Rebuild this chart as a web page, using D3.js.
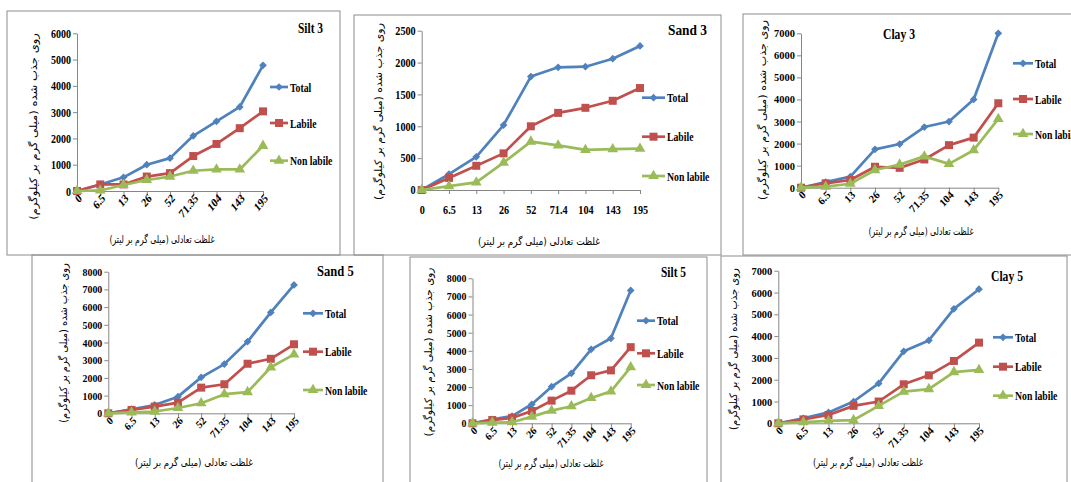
<!DOCTYPE html>
<html lang="en">

<head>
  <meta charset="UTF-8">
  <script src="https://d3js.org/d3.v7.min.js"></script>
  <style>
    body { margin: 0; background: #fff; }
    .tick text { font-family: "Liberation Serif", serif; font-weight: bold; fill: #000; }
    .domain, .tick line { stroke: #868686; }
  </style>
</head>

<body>
  <svg id="chart" width="1071" height="482"></svg>

  <script>
    // categories (equilibrium concentration)
    const cats = ["0", "6.5", "13", "26", "52", "71.35", "104", "143", "195"];
    const catsSand3 = ["0", "6.5", "13", "26", "52", "71.4", "104", "143", "195"];
    const seriesNames = ["Total", "Labile", "Non labile"];
    const colors = ["#4F81BD", "#C0504D", "#9BBB59"];

    const silt3Total = [0, 250, 520, 1000, 1250, 2100, 2650, 3200, 4780];
    const silt3Labile = [0, 250, 250, 550, 680, 1330, 1790, 2390, 3030];
    const silt3NonLabile = [0, 20, 230, 420, 550, 770, 820, 820, 1720];

    const sand3Total = [0, 250, 520, 1020, 1780, 1925, 1935, 2060, 2260];
    const sand3Labile = [0, 190, 380, 575, 1000, 1210, 1290, 1400, 1600];
    const sand3NonLabile = [0, 60, 120, 430, 760, 700, 630, 640, 650];

    const clay3Total = [0, 250, 500, 1740, 1980, 2750, 3000, 4000, 7000];
    const clay3Labile = [0, 200, 350, 950, 900, 1280, 1930, 2270, 3830];
    const clay3NonLabile = [0, 50, 180, 800, 1050, 1420, 1080, 1700, 3120];

    const sand5Total = [0, 230, 470, 940, 2030, 2780, 4050, 5700, 7250];
    const sand5Labile = [0, 190, 380, 600, 1450, 1640, 2800, 3080, 3900];
    const sand5NonLabile = [0, 50, 100, 300, 570, 1080, 1200, 2600, 3330];

    const silt5Total = [0, 220, 400, 1050, 2020, 2760, 4080, 4690, 7330];
    const silt5Labile = [0, 180, 300, 680, 1250, 1800, 2650, 2920, 4200];
    const silt5NonLabile = [0, 40, 60, 370, 700, 940, 1400, 1760, 3100];

    const clay5Total = [0, 230, 500, 1000, 1830, 3300, 3800, 5250, 6150];
    const clay5Labile = [0, 180, 380, 800, 1000, 1790, 2200, 2860, 3700];
    const clay5NonLabile = [0, 50, 110, 150, 800, 1450, 1570, 2350, 2450];

    const yTitleText = "روی جذب شده (میلی گرم بر کیلوگرم)";
    const xTitleText = "غلظت تعادلی (میلی گرم بر لیتر)";

    // layout of the six panels (fs = tick font size, sx = horizontal squeeze of tick text)
    const panels = [
      { title: "Silt 3", cats: cats, data: [silt3Total, silt3Labile, silt3NonLabile], yMax: 6000, step: 1000,
        box: [7, 11, 340, 255], x0: 77, x1: 263, yTop: 33.3, yBot: 191, rotate: true, fs: 12.5, sx: 0.8,
        leg: [270, 288, 290], legY: [87, 123, 160.7], tt: [298, 28, 25],
        yt: [33, 126.5, 187], xt: [162, 239, 105] },
      { title: "Sand 3", cats: catsSand3, data: [sand3Total, sand3Labile, sand3NonLabile], yMax: 2500, step: 500,
        box: [354, 15, 721, 255], x0: 421.7, x1: 640, yTop: 30.7, yBot: 190, rotate: false, fs: 12, sx: 0.85,
        leg: [642, 665, 667], legY: [97.7, 136.7, 176], tt: [668, 30, 39],
        yt: [378, 111.5, 177], xt: [539, 241, 122] },
      { title: "Clay 3", cats: cats, data: [clay3Total, clay3Labile, clay3NonLabile], yMax: 7000, step: 1000,
        box: [743, 14, 1080, 255], x0: 801, x1: 998.3, yTop: 33.3, yBot: 187.7, rotate: true, fs: 11, sx: 0.95,
        leg: [1013, 1033, 1035], legY: [63.3, 99, 134], tt: [883, 34, 32],
        yt: [762, 110, 180], xt: [921, 231, 105] },
      { title: "Sand 5", cats: cats, data: [sand5Total, sand5Labile, sand5NonLabile], yMax: 8000, step: 1000,
        box: [32, 255, 383, 495], x0: 108.3, x1: 294, yTop: 271.7, yBot: 413.3, rotate: true, fs: 11, sx: 0.9,
        leg: [303, 323, 325], legY: [313.3, 351.7, 390], tt: [317, 270.7, 36.7],
        yt: [63, 343, 160], xt: [194, 462, 118] },
      { title: "Silt 5", cats: cats, data: [silt5Total, silt5Labile, silt5NonLabile], yMax: 8000, step: 1000,
        box: [410, 257, 707, 495], x0: 472.5, x1: 630.7, yTop: 278.3, yBot: 423.3, rotate: true, fs: 11, sx: 0.9,
        leg: [637, 655, 657], legY: [320.7, 353.3, 385], tt: [661, 271.7, 25],
        yt: [428, 352, 169], xt: [551, 463, 105] },
      { title: "Clay 5", cats: cats, data: [clay5Total, clay5Labile, clay5NonLabile], yMax: 7000, step: 1000,
        box: [721, 256, 1067, 495], x0: 778.3, x1: 979, yTop: 270.7, yBot: 423.3, rotate: true, fs: 11, sx: 0.95,
        leg: [993, 1013, 1015], legY: [337.3, 366.7, 395.7], tt: [991, 275.7, 32],
        yt: [733, 349, 162], xt: [868, 462, 110] }
    ];

    const svg = d3.select("#chart");

    const markerPath = function (i) {
      if (i === 0) return d3.symbol(d3.symbolSquare, 30)();
      if (i === 1) return d3.symbol(d3.symbolSquare, 64)();
      return d3.symbol(d3.symbolTriangle, 50)();
    };

    // squeeze a text node horizontally so it fits a given width
    const fit = function (sel, prefix, width) {
      const w = sel.node().getComputedTextLength();
      sel.attr("transform", prefix + " scale(" + (width / w) + ",1)");
    };

    panels.forEach(function (p) {
      const g = svg.append("g");

      g.append("rect")
        .attr("x", p.box[0]).attr("y", p.box[1])
        .attr("width", p.box[2] - p.box[0]).attr("height", p.box[3] - p.box[1])
        .attr("fill", "none").attr("stroke", "#8c8c8c").attr("stroke-width", 1);

      const x = d3.scalePoint().domain(p.cats).range([p.x0, p.x1]);
      const y = d3.scaleLinear().domain([0, p.yMax]).range([p.yBot, p.yTop]);

      const yAxis = g.append("g")
        .attr("transform", "translate(" + p.x0 + ",0)")
        .call(d3.axisLeft(y).tickValues(d3.range(0, p.yMax + 1, p.step))
          .tickFormat(d3.format("d")).tickSize(4).tickSizeOuter(0));
      yAxis.selectAll("text")
        .style("font-size", p.fs + "px")
        .attr("x", -6 / p.sx)
        .attr("transform", "scale(" + p.sx + ",1)");

      const xAxis = g.append("g")
        .attr("transform", "translate(0," + p.yBot + ")")
        .call(d3.axisBottom(x).tickSize(4).tickSizeOuter(0));
      xAxis.selectAll("text").style("font-size", p.fs + "px");
      if (p.rotate) {
        xAxis.selectAll("text")
          .attr("text-anchor", "end")
          .attr("dy", null)
          .attr("y", null)
          .attr("transform", "translate(5,8) scale(" + p.sx + ",1) rotate(-45)");
      } else {
        xAxis.selectAll("text")
          .attr("y", 15)
          .attr("transform", "scale(" + p.sx + ",1)");
      }

      const line = d3.line().x(function (d, i) { return x(p.cats[i]); }).y(function (d) { return y(d); });

      p.data.forEach(function (vals, si) {
        g.append("path")
          .attr("d", line(vals))
          .attr("fill", "none")
          .attr("stroke", colors[si])
          .attr("stroke-width", 2.7)
          .attr("stroke-linejoin", "round");

        g.selectAll(null).data(vals).join("path")
          .attr("d", markerPath(si))
          .attr("fill", colors[si])
          .attr("transform", function (d, i) {
            return "translate(" + x(p.cats[i]) + "," + y(d) + ")" + (si === 0 ? " rotate(45)" : "");
          });
      });

      // legend
      seriesNames.forEach(function (name, si) {
        const ly = p.legY[si];
        g.append("line")
          .attr("x1", p.leg[0]).attr("x2", p.leg[1]).attr("y1", ly).attr("y2", ly)
          .attr("stroke", colors[si]).attr("stroke-width", 2.7);
        g.append("path")
          .attr("d", markerPath(si))
          .attr("fill", colors[si])
          .attr("transform", "translate(" + ((p.leg[0] + p.leg[1]) / 2) + "," + ly + ")" + (si === 0 ? " rotate(45)" : ""));
        g.append("text")
          .attr("dy", "0.36em")
          .attr("font-family", "Liberation Serif, serif")
          .attr("font-weight", "bold")
          .attr("font-size", 12.5)
          .attr("transform", "translate(" + p.leg[2] + "," + ly + ") scale(0.78,1)")
          .text(name);
      });

      // panel title
      const t = g.append("text")
        .attr("dy", "0.36em")
        .attr("font-family", "Liberation Serif, serif")
        .attr("font-weight", "bold")
        .attr("font-size", 14.5)
        .text(p.title);
      fit(t, "translate(" + p.tt[0] + "," + p.tt[1] + ")", p.tt[2]);

      // axis titles
      const yt = g.append("text")
        .attr("text-anchor", "middle")
        .attr("dy", "0.35em")
        .attr("font-family", "DejaVu Sans, sans-serif")
        .attr("font-size", 10.5)
        .attr("fill", "#000")
        .text(yTitleText);
      fit(yt, "translate(" + p.yt[0] + "," + p.yt[1] + ") rotate(-90)", p.yt[2]);

      const xt = g.append("text")
        .attr("text-anchor", "middle")
        .attr("dy", "0.35em")
        .attr("font-family", "DejaVu Sans, sans-serif")
        .attr("font-size", 10.5)
        .attr("fill", "#000")
        .text(xTitleText);
      fit(xt, "translate(" + p.xt[0] + "," + p.xt[1] + ")", p.xt[2]);
    });
  </script>
</body>

</html>
